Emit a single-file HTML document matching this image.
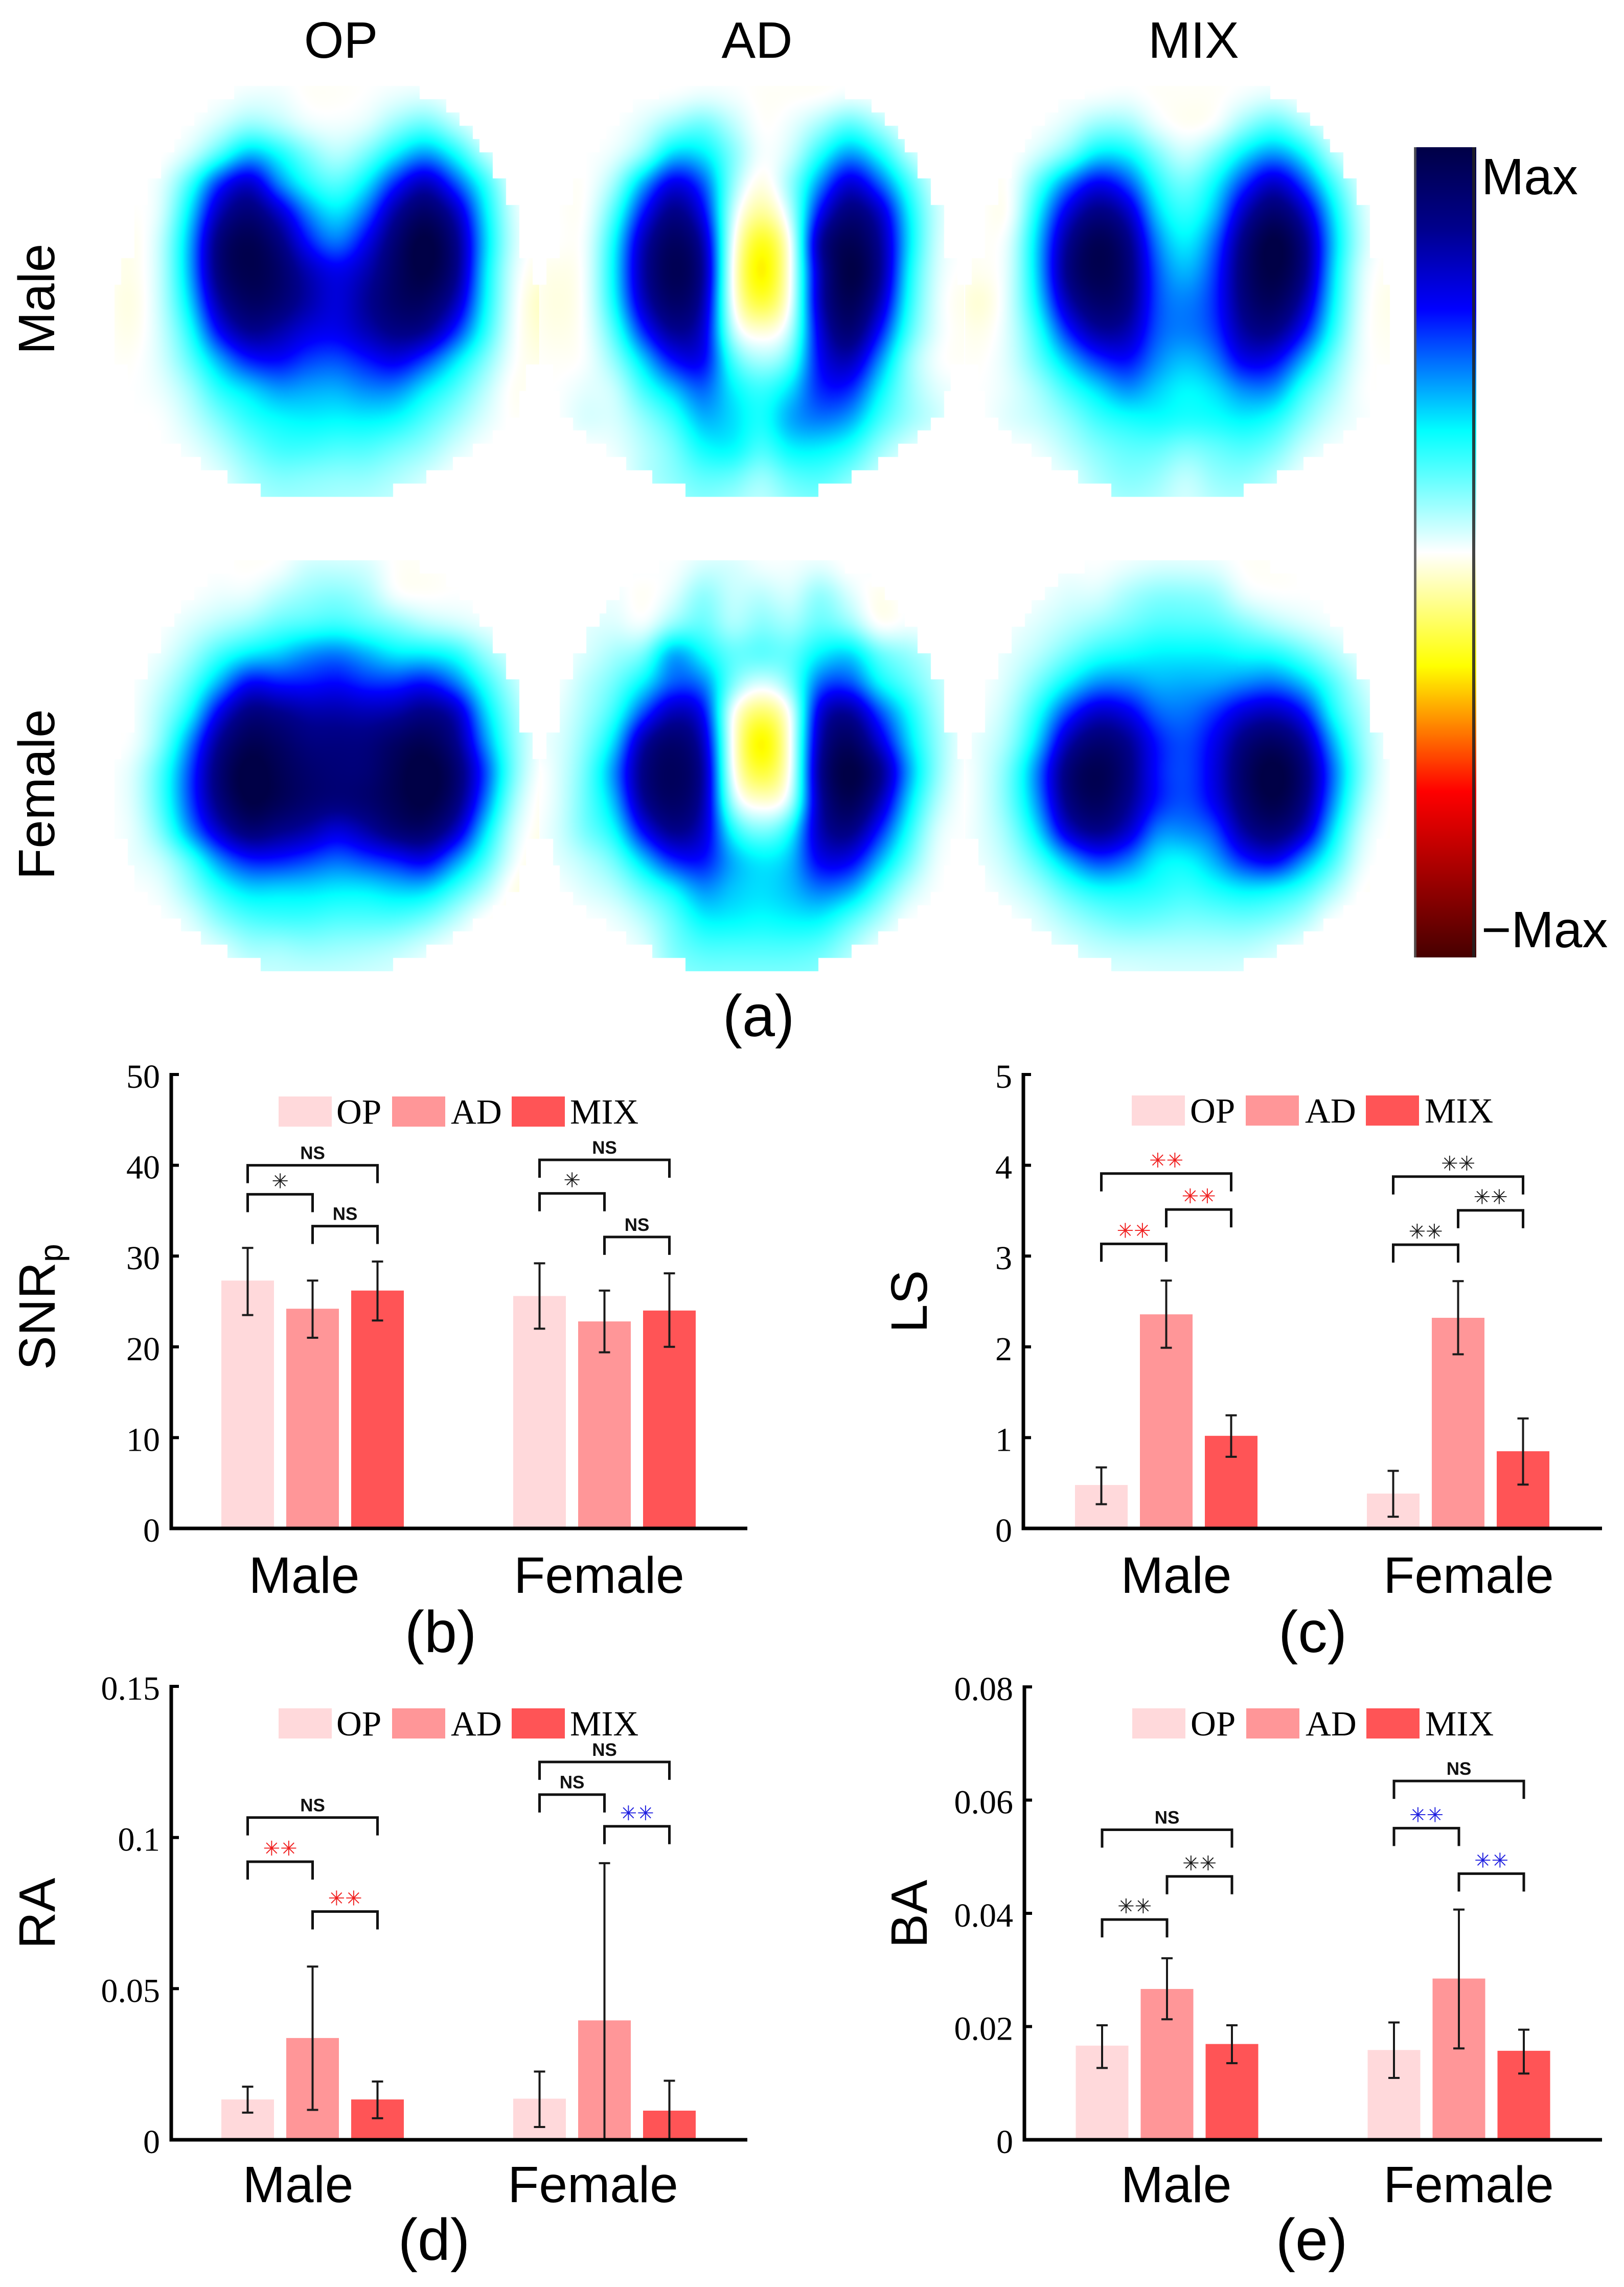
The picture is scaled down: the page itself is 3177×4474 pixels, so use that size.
<!DOCTYPE html>
<html lang="en">
<head>
<meta charset="utf-8">
<title>Topographic maps and bar charts of SNRp, LS, RA and BA</title>
<style>
html,body{margin:0;padding:0;background:#fff;}
#stage{position:relative;width:3177px;height:4474px;overflow:hidden;background:#fff;}
canvas{position:absolute;}
#figure{position:absolute;left:0;top:0;}
.sans{font-family:"Liberation Sans",Arial,sans-serif;}
.serif{font-family:"Liberation Serif","Times New Roman",serif;}
</style>
</head>
<body>
<div id="stage">
  <canvas id="hm-male-op" width="900" height="900" style="left:200px;top:130px"></canvas>
  <canvas id="hm-male-ad" width="900" height="900" style="left:1030px;top:130px"></canvas>
  <canvas id="hm-male-mix" width="900" height="900" style="left:1860px;top:130px"></canvas>
  <canvas id="hm-female-op" width="900" height="900" style="left:200px;top:1050px"></canvas>
  <canvas id="hm-female-ad" width="900" height="900" style="left:1030px;top:1050px"></canvas>
  <canvas id="hm-female-mix" width="900" height="900" style="left:1860px;top:1050px"></canvas>
  <svg id="figure" width="3177" height="4474" viewBox="0 0 3177 4474" xmlns="http://www.w3.org/2000/svg">
    <defs><linearGradient id="cbar-gradient" x1="0" y1="0" x2="0" y2="1"></linearGradient></defs>
    <g class="sans" font-size="100" fill="#000">
      <text x="667" y="113" text-anchor="middle">OP</text>
      <text x="1481" y="113" text-anchor="middle">AD</text>
      <text x="2335" y="113" text-anchor="middle">MIX</text>
      <text transform="translate(106 585) rotate(-90)" text-anchor="middle">Male</text>
      <text transform="translate(106 1554) rotate(-90)" text-anchor="middle">Female</text>
      <text x="2898" y="380">Max</text>
      <text x="2898" y="1853">−Max</text>
      <text transform="translate(107 2680) rotate(-90)">SNR<tspan font-size="64" dy="15">p</tspan></text>
      <text transform="translate(1813 2546) rotate(-90)" text-anchor="middle">LS</text>
      <text transform="translate(107 3743) rotate(-90)" text-anchor="middle">RA</text>
      <text transform="translate(1813 3744) rotate(-90)" text-anchor="middle">BA</text>
    </g>
    <g class="sans" font-size="115" fill="#000" text-anchor="middle">
      <text x="1484" y="2027">(a)</text>
      <text x="862" y="3232">(b)</text>
      <text x="2568" y="3232">(c)</text>
      <text x="849" y="4421">(d)</text>
      <text x="2566" y="4421">(e)</text>
    </g>
    <g id="colorbar"></g>
    <g id="charts"></g>
  </svg>
</div>
<script>
/* ---------- heatmap values, -1..1 on the colorbar scale ---------- */
const heatMaleOP = [
[0,0,0,0,0,0,0,0,0,0,0,0,0,0,0,0],
[0,0,0,0,0,.02,.02,-.01,-.01,0,.02,.03,0,0,0,0],
[0,0,0,0,.05,.12,.08,.02,.01,.03,.12,.18,.08,0,0,0],
[0,0,-.01,.05,.2,.38,.28,.15,.07,.15,.3,.42,.28,.08,0,0],
[0,0,.02,.22,.55,.7,.42,.25,.18,.3,.55,.72,.5,.25,.02,-.01],
[0,-.01,.03,.32,.72,.85,.68,.42,.3,.45,.75,.9,.72,.32,.04,-.02],
[0,-.03,.06,.38,.85,.95,.82,.55,.42,.6,.85,1,.82,.35,.05,-.02],
[0,-.03,.06,.38,.85,.95,.88,.7,.6,.7,.88,.98,.82,.32,.03,-.04],
[0,-.04,.06,.33,.75,.9,.85,.72,.62,.75,.88,.9,.72,.3,.02,-.08],
[0,-.03,.05,.25,.6,.78,.72,.62,.6,.7,.8,.78,.55,.25,.01,-.06],
[0,-.01,.04,.18,.38,.55,.58,.5,.48,.55,.62,.5,.32,.15,0,-.03],
[0,0,.02,.1,.25,.32,.4,.38,.37,.42,.42,.3,.2,.08,-.02,0],
[0,0,0,.06,.15,.24,.28,.3,.29,.3,.28,.2,.12,.04,-.01,0],
[0,0,0,.02,.08,.16,.22,.22,.2,.2,.16,.12,.05,0,0,0],
[0,0,0,0,.03,.1,.14,.13,.12,.12,.09,.05,0,0,0,0],
[0,0,0,0,.02,.08,.1,.1,.09,.08,.06,.03,0,0,0,0]];
const heatMaleAD = [
[0,0,0,0,0,0,0,0,0,0,0,0,0,0,0,0],
[0,0,0,0,0,0,.02,.01,-.01,-.01,-.01,.01,0,0,0,0],
[0,0,0,0,.04,.12,.18,.08,-.01,.02,.1,.2,.1,.01,0,0],
[0,0,0,.02,.12,.35,.32,.15,0,.05,.25,.42,.28,.08,0,0],
[0,0,-.01,.1,.4,.65,.5,.12,-.05,.12,.42,.68,.48,.22,.03,0],
[0,0,-.01,.2,.58,.82,.62,.05,-.14,.06,.6,.85,.7,.3,.05,0],
[0,0,0,.28,.72,.92,.75,0,-.3,-.03,.78,.95,.78,.32,.04,0],
[0,-.03,0,.3,.75,.95,.8,-.03,-.36,-.03,.72,1,.8,.28,.03,-.01],
[0,-.04,0,.28,.7,.9,.75,-.02,-.26,-.02,.72,.95,.72,.25,.02,-.03],
[0,-.03,0,.2,.55,.78,.68,.05,-.06,.05,.65,.88,.58,.2,.02,-.02],
[0,-.01,0,.12,.34,.58,.62,.2,.08,.17,.6,.72,.42,.12,0,-.01],
[0,0,.03,.05,.22,.35,.48,.3,.22,.32,.55,.55,.3,.12,.03,.01],
[0,0,.05,.04,.12,.22,.38,.33,.25,.4,.45,.4,.22,.12,.06,0],
[0,0,0,.02,.08,.15,.28,.3,.2,.3,.3,.25,.12,.04,0,0],
[0,0,0,0,.08,.13,.18,.17,.1,.18,.2,.14,.05,0,0,0],
[0,0,0,0,.05,.1,.13,.1,.06,.12,.14,.08,0,0,0,0]];
const heatMaleMIX = [
[0,0,0,0,0,0,0,0,0,0,0,0,0,0,0,0],
[0,0,0,0,0,0,.01,-.01,-.01,-.01,.01,.03,0,0,0,0],
[0,0,0,0,.04,.12,.12,.02,-.02,0,.12,.2,.1,.01,0,0],
[0,0,-.01,.05,.15,.32,.3,.15,.05,.15,.32,.42,.3,.08,0,0],
[0,0,-.01,.2,.45,.62,.5,.25,.15,.28,.52,.7,.5,.22,.03,-.01],
[0,0,-.02,.3,.65,.82,.7,.33,.22,.35,.7,.88,.7,.32,.05,-.02],
[0,-.01,.02,.36,.78,.95,.82,.42,.28,.45,.82,1,.82,.36,.06,-.02],
[0,-.02,.03,.36,.82,.95,.85,.47,.35,.5,.85,.98,.82,.33,.03,-.02],
[0,-.06,.04,.32,.72,.88,.82,.48,.42,.52,.82,.92,.72,.3,.02,-.03],
[0,-.03,.04,.24,.55,.75,.72,.47,.43,.5,.75,.8,.58,.25,.01,-.02],
[0,-.01,.04,.18,.36,.52,.58,.42,.35,.42,.62,.6,.38,.16,.01,-.01],
[0,0,.03,.1,.22,.32,.42,.34,.28,.32,.42,.42,.22,.1,0,0],
[0,0,.04,.07,.13,.22,.26,.28,.26,.27,.3,.26,.14,.05,.01,0],
[0,0,0,.02,.08,.14,.18,.18,.14,.17,.2,.16,.06,.01,0,0],
[0,0,0,0,.03,.1,.14,.12,.06,.12,.13,.08,.01,0,0,0],
[0,0,0,0,.02,.07,.1,.08,.04,.08,.09,.05,0,0,0,0]];
const heatFemaleOP = [
[0,0,0,0,0,0,0,0,0,0,0,0,0,0,0,0],
[0,0,0,0,0,-.01,0,.06,.06,.05,-.01,-.01,0,0,0,0],
[0,0,0,0,.02,.02,.08,.12,.14,.1,0,-.01,0,0,0,0],
[0,0,0,.04,.08,.12,.18,.2,.22,.18,.14,.08,.05,.02,0,0],
[0,0,.02,.1,.22,.3,.34,.42,.45,.38,.3,.3,.26,.12,.04,0],
[0,0,.06,.18,.38,.6,.55,.55,.58,.52,.52,.58,.45,.24,.08,-.01],
[0,0,.1,.27,.62,.82,.78,.72,.72,.7,.72,.8,.72,.34,.12,0],
[0,0,.13,.42,.78,.93,.88,.8,.8,.8,.88,.93,.8,.42,.14,0],
[0,.03,.2,.5,.85,1,.92,.85,.82,.82,.92,1,.88,.52,.15,-.02],
[0,.03,.2,.5,.82,.98,.92,.85,.82,.85,.92,.98,.85,.46,.1,-.03],
[0,.02,.15,.42,.68,.85,.78,.72,.62,.72,.85,.88,.7,.33,.05,-.03],
[0,.02,.06,.2,.42,.55,.55,.5,.45,.5,.55,.62,.42,.22,.02,-.05],
[0,0,.02,.12,.25,.33,.32,.32,.3,.3,.34,.34,.22,.1,-.03,-.05],
[0,0,0,.04,.14,.2,.22,.22,.2,.2,.2,.16,.08,-.01,-.02,0],
[0,0,0,.01,.04,.1,.1,.12,.11,.1,.08,.04,0,-.01,0,0],
[0,0,0,0,.01,.05,.06,.06,.06,.05,.04,.01,0,0,0,0]];
const heatFemaleAD = [
[0,0,0,0,0,0,0,0,0,0,0,0,0,0,0,0],
[0,0,0,0,.01,0,.05,.05,.01,.01,.03,-.01,.02,0,0,0],
[0,0,0,.02,-.02,.03,.14,.06,.08,.04,.14,.04,-.03,.01,0,0],
[0,0,.03,.04,0,.12,.18,.08,.14,.1,.18,.12,-.02,.01,0,0],
[0,0,.04,.1,.15,.42,.28,.18,.2,.18,.3,.35,.18,.12,.06,0],
[0,0,.08,.16,.3,.48,.45,.15,.03,.14,.48,.5,.28,.18,.08,0],
[0,.02,.1,.22,.5,.72,.62,-.02,-.2,-.02,.68,.78,.5,.28,.1,0],
[.02,.03,.13,.32,.75,.88,.72,-.03,-.36,-.03,.75,.92,.65,.33,.12,0],
[-.03,.03,.16,.42,.82,.92,.78,-.02,-.26,-.03,.8,1,.82,.4,.12,-.01],
[-.02,.03,.17,.36,.78,.9,.75,.06,-.07,.03,.75,.95,.72,.33,.08,-.01],
[-.01,.04,.16,.27,.6,.8,.68,.25,.13,.25,.72,.82,.55,.25,.03,0],
[0,.03,.08,.16,.35,.55,.58,.38,.3,.35,.62,.62,.38,.17,.01,0],
[0,0,.04,.08,.18,.28,.42,.35,.32,.36,.45,.4,.22,.07,0,0],
[0,0,0,.02,.08,.18,.3,.3,.28,.3,.3,.2,.1,0,0,0],
[0,0,0,0,.03,.15,.2,.2,.2,.2,.18,.1,.01,0,0,0],
[0,0,0,0,.02,.12,.14,.14,.14,.14,.13,.06,0,0,0,0]];
const heatFemaleMIX = [
[0,0,0,0,0,0,0,0,0,0,0,0,0,0,0,0],
[0,0,0,0,.01,0,.02,.04,.04,.03,-.01,-.01,0,0,0,0],
[0,0,0,.01,.04,.04,.1,.14,.14,.12,.02,0,0,0,0,0],
[0,0,.01,.04,.08,.12,.16,.2,.2,.19,.14,.08,.04,.01,0,0],
[0,0,.03,.08,.16,.24,.27,.3,.3,.3,.27,.26,.18,.09,.02,0],
[0,0,.05,.16,.3,.42,.42,.37,.38,.38,.42,.45,.36,.2,.06,0],
[0,.01,.08,.26,.52,.68,.62,.46,.44,.52,.65,.7,.58,.26,.1,0],
[0,.03,.11,.34,.72,.86,.78,.55,.48,.6,.82,.9,.76,.38,.12,0],
[-.02,.03,.16,.45,.85,.95,.82,.55,.48,.62,.88,1,.85,.46,.14,-.01],
[-.02,.03,.16,.42,.82,.92,.78,.55,.48,.6,.85,.97,.82,.42,.1,-.01],
[-.01,.03,.12,.33,.68,.8,.68,.42,.42,.48,.75,.85,.7,.32,.05,-.01],
[0,.02,.08,.2,.38,.52,.45,.3,.28,.38,.55,.62,.42,.22,.02,-.01],
[0,0,.04,.1,.2,.27,.27,.25,.22,.26,.3,.28,.22,.1,-.01,0],
[0,0,0,.04,.1,.15,.18,.17,.15,.16,.17,.15,.1,0,-.01,0],
[0,0,0,.01,.04,.07,.08,.08,.08,.08,.08,.05,.01,-.01,0,0],
[0,0,0,0,.01,.03,.03,.04,.04,.04,.03,.02,0,0,0,0]];

/* colormap: value on the scale, then r, g, b */
const colorValues = [1,.8,.6,.3,0,-.28,-.59,-1];
const colorReds = [0,0,0,0,255,255,255,70];
const colorGreens = [0,0,0,255,255,255,0,0];
const colorBlues = [70,140,255,255,255,0,0,0];

/* head outline: half width of each row of the scalp mask, counted in sensor cells */
const maskRowHalfCells = [7,9,10,11,11.5,12.5,12.5,13.5,13.5,14.5,14.5,14.5,14.5,15.5,15.5,16,16,16,16,16,16,15,15,14.5,14.5,13.5,12.5,11,9.5,7.5,5];

/* ---------- bar chart data ---------- */
const categories = ['Male','Female'];
const seriesNames = ['OP','AD','MIX'];
const seriesColors = ['#FFD9DB','#FF9698','#FF5456'];

const snrpMale = [27.3,24.2,26.2];
const snrpFemale = [25.6,22.8,24.0];
const snrpMaleUpper = [30.9,27.3,29.4];
const snrpMaleLower = [23.5,21.0,22.9];
const snrpFemaleUpper = [29.2,26.2,28.1];
const snrpFemaleLower = [22.0,19.4,20.0];
const snrpTicks = [0,10,20,30,40,50];
const snrpTickLabels = ['0','10','20','30','40','50'];
const snrpBrackets = [[0,0,2,40.0,'NS','k'],[0,0,1,36.8,'*','k'],[0,1,2,33.3,'NS','k'],[1,0,2,40.6,'NS','k'],[1,0,1,36.9,'*','k'],[1,1,2,32.1,'NS','k']];

const lsMale = [.478,2.358,1.02];
const lsFemale = [.384,2.32,.85];
const lsMaleUpper = [.672,2.73,1.246];
const lsMaleLower = [.267,1.99,.789];
const lsFemaleUpper = [.634,2.724,1.211];
const lsFemaleLower = [.129,1.918,.483];
const lsTicks = [0,1,2,3,4,5];
const lsTickLabels = ['0','1','2','3','4','5'];
const lsBrackets = [[0,0,2,3.909,'**','r'],[0,1,2,3.513,'**','r'],[0,0,1,3.134,'**','r'],[1,0,2,3.875,'**','k'],[1,1,2,3.504,'**','k'],[1,0,1,3.125,'**','k']];

const raMale = [.01334,.03367,.01334];
const raFemale = [.0136,.0395,.00964];
const raMaleUpper = [.01756,.0573,.01928];
const raMaleLower = [.00898,.0099,.00713];
const raFemaleUpper = [.02258,.0915,.01954];
const raFemaleLower = [.00423,0,0];
const raTicks = [0,.05,.1,.15];
const raTickLabels = ['0','0.05','0.1','0.15'];
const raBrackets = [[0,0,2,.1066,'NS','k'],[0,0,1,.092,'**','r'],[0,1,2,.0755,'**','r'],[1,0,2,.125,'NS','k'],[1,0,1,.1142,'NS','k'],[1,1,2,.1037,'**','b']];

const baMale = [.01663,.02664,.01692];
const baFemale = [.01586,.02848,.01572];
const baMaleUpper = [.02023,.03207,.02023];
const baMaleLower = [.01269,.02129,.01353];
const baFemaleUpper = [.02072,.04067,.01945];
const baFemaleLower = [.01093,.01614,.0117];
const baTicks = [0,.02,.04,.06,.08];
const baTickLabels = ['0','0.02','0.04','0.06','0.08'];
const baBrackets = [[0,0,2,.05476,'NS','k'],[0,1,2,.04652,'**','k'],[0,0,1,.03891,'**','k'],[1,0,2,.06337,'NS','k'],[1,0,1,.05505,'**','b'],[1,1,2,.04701,'**','b']];

/* ---------- helpers ---------- */
const SVGNS = 'http://www.w3.org/2000/svg';
function make(tag, attrs, parent, text) {
  const n = document.createElementNS(SVGNS, tag);
  for (const k in attrs) n.setAttribute(k, attrs[k]);
  if (text !== undefined) n.textContent = text;
  parent.appendChild(n);
  return n;
}
function colorAt(v) {
  if (v >= colorValues[0]) return [colorReds[0], colorGreens[0], colorBlues[0]];
  for (let i = 1; i < colorValues.length; i++) {
    if (v >= colorValues[i]) {
      const t = (v - colorValues[i]) / (colorValues[i - 1] - colorValues[i]);
      return [
        colorReds[i] + (colorReds[i - 1] - colorReds[i]) * t,
        colorGreens[i] + (colorGreens[i - 1] - colorGreens[i]) * t,
        colorBlues[i] + (colorBlues[i - 1] - colorBlues[i]) * t
      ];
    }
  }
  const last = colorValues.length - 1;
  return [colorReds[last], colorGreens[last], colorBlues[last]];
}

/* ---------- heatmaps: half interpolating, half smoothing cubic between the grid nodes ---------- */
function cubic(a, b, c, d, t) {
  const t2 = t * t, t3 = t2 * t;
  const cr = b + .5 * t * (c - a + t * (2 * a - 5 * b + 4 * c - d + t * (3 * (b - c) + d - a)));
  const u = 1 - t;
  const bs = (u * u * u * a + (3 * t3 - 6 * t2 + 4) * b + (-3 * t3 + 3 * t2 + 3 * t + 1) * c + t3 * d) / 6;
  return .5 * cr + .5 * bs;
}
function drawHeatmap(id, grid, centerX, maskTop) {
  const canvas = document.getElementById(id);
  const ctx = canvas.getContext('2d');
  const W = canvas.width, H = canvas.height;
  const img = ctx.createImageData(W, H);
  const step = 900 * 100 / 1568;
  const rows = grid.length, cols = grid[0].length;
  const cell = 25.95;
  const line = new Array(cols);
  const clampR = i => Math.max(0, Math.min(rows - 1, i));
  const clampC = i => Math.max(0, Math.min(cols - 1, i));
  for (let y = 0; y < H; y++) {
    const row = Math.floor((y - maskTop) / cell);
    if (row < 0 || row >= maskRowHalfCells.length) continue;
    const half = maskRowHalfCells[row] * cell;
    const fy = y / step, iy = Math.floor(fy), ty = fy - iy;
    const r0 = grid[clampR(iy - 1)], r1 = grid[clampR(iy)], r2 = grid[clampR(iy + 1)], r3 = grid[clampR(iy + 2)];
    for (let c = 0; c < cols; c++) line[c] = cubic(r0[c], r1[c], r2[c], r3[c], ty);
    for (let x = 0; x < W; x++) {
      if (Math.abs(x - centerX) > half) continue;
      const fx = x / step, ix = Math.floor(fx), tx = fx - ix;
      const v = cubic(line[clampC(ix - 1)], line[clampC(ix)], line[clampC(ix + 1)], line[clampC(ix + 2)], tx);
      const rgb = colorAt(v > 0 ? v * 1.05 : v);
      const p = (y * W + x) * 4;
      img.data[p] = rgb[0];
      img.data[p + 1] = rgb[1];
      img.data[p + 2] = rgb[2];
      img.data[p + 3] = 255;
    }
  }
  ctx.putImageData(img, 0, 0);
}
drawHeatmap('hm-male-op', heatMaleOP, 439, 37.3);
drawHeatmap('hm-male-ad', heatMaleAD, 440.6, 37.3);
drawHeatmap('hm-male-mix', heatMaleMIX, 442.9, 37.3);
drawHeatmap('hm-female-op', heatFemaleOP, 439, 45.4);
drawHeatmap('hm-female-ad', heatFemaleAD, 440.6, 45.4);
drawHeatmap('hm-female-mix', heatFemaleMIX, 442.9, 45.4);

/* ---------- colorbar ---------- */
const gradient = document.getElementById('cbar-gradient');
colorValues.forEach((v, i) => {
  make('stop', {offset: (1 - v) / 2, 'stop-color': 'rgb(' + colorReds[i] + ',' + colorGreens[i] + ',' + colorBlues[i] + ')'}, gradient);
});
const cbarGroup = document.getElementById('colorbar');
const cbarFill = make('rect', {x: 2767, y: 288, width: 121, height: 1585, fill: 'url(#cbar-gradient)'}, cbarGroup);


const cbarLeft = make('rect', {x: 2766, y: 288, width: 5, height: 1585, fill: '#555', opacity: .85}, cbarGroup);


const cbarRight = make('rect', {x: 2880, y: 288, width: 6, height: 1585, fill: '#222', opacity: .85}, cbarGroup);



/* ---------- bar charts ---------- */
const markColors = {k: '#1c1c1c', r: '#f02020', b: '#2020e0'};
function drawChart(key, layout, data) {
  const root = make('g', {}, document.getElementById('charts'));
  
  
  const ymax = data.ticks[data.ticks.length - 1];
  const y = v => layout.base - (v / ymax) * (layout.base - layout.top);
  const x = (g, s) => layout.first + g * 571 + s * 127;
  const barW = 103;

  data.means.forEach((groupVals, g) => {
    groupVals.forEach((v, s) => {
      const bar = make('rect', {x: x(g, s) - barW / 2, y: y(v), width: barW, height: y(0) - y(v), fill: seriesColors[s]}, root);
      
      
    });
  });
  data.means.forEach((groupVals, g) => {
    groupVals.forEach((v, s) => {
      const e = make('path', {
        d: 'M' + x(g, s) + ' ' + y(data.lower[g][s]) + 'V' + y(data.upper[g][s]) +
           'M' + (x(g, s) - 11) + ' ' + y(data.upper[g][s]) + 'h22' +
           'M' + (x(g, s) - 11) + ' ' + y(data.lower[g][s]) + 'h22',
        fill: 'none', stroke: '#1a1a1a', 'stroke-width': 4
      }, root);
      
      
    });
  });

  const axes = make('path', {
    d: 'M' + layout.axis + ' ' + (layout.top - 3) + 'V' + layout.base + 'H' + layout.right,
    fill: 'none', stroke: '#000', 'stroke-width': 7
  }, root);
  
  

  data.ticks.forEach((t, i) => {
    const tick = make('line', {x1: layout.axis, x2: layout.axis + 15, y1: y(t), y2: y(t), stroke: '#000', 'stroke-width': 6}, root);
    
    
    const lab = make('text', {x: layout.axis - 22, y: y(t) + 26, 'text-anchor': 'end', class: 'serif', 'font-size': 66, fill: '#000'}, root, data.tickLabels[i]);
    
    
  });

  categories.forEach((c, g) => {
    const lab = make('text', {x: layout.catX[g], y: layout.catY, 'text-anchor': 'middle', class: 'sans', 'font-size': 100, fill: '#000'}, root, c);
    
    
  });

  seriesNames.forEach((s, i) => {
    const sw = make('rect', {x: layout.legendX[i], y: layout.legendY, width: 104, height: 59, fill: seriesColors[i]}, root);
    
    
    const t = make('text', {x: layout.legendTextX[i], y: layout.legendY + 53, class: 'serif', 'font-size': 69, fill: '#000'}, root, s);
    
    
  });

  data.brackets.forEach(b => {
    const x1 = x(b[0], b[1]), x2 = x(b[0], b[2]), yy = y(b[3]), leg = 35;
    const br = make('path', {
      d: 'M' + x1 + ' ' + (yy + leg) + 'V' + yy + 'H' + x2 + 'V' + (yy + leg),
      fill: 'none', stroke: '#111', 'stroke-width': 5
    }, root);
    
    
    const mid = (x1 + x2) / 2;
    let label;
    if (b[4] === 'NS') {
      label = make('text', {x: mid, y: yy - 12, 'text-anchor': 'middle', class: 'sans', 'font-size': 35, 'font-weight': 'bold', fill: '#111'}, root, 'NS');
    } else {
      const stars = b[4].length === 2 ? '✳✳' : '✳';
      label = make('text', {x: mid, y: yy - 12, 'text-anchor': 'middle', 'font-family': '"DejaVu Sans",sans-serif', 'font-size': 40, fill: markColors[b[5]]}, root, stars);
    }
    
    
  });
}

drawChart('snrp',
  {axis: 335, top: 2102, base: 2990, right: 1462, first: 484.5, catX: [595, 1172], catY: 3116,
   legendX: [545, 767, 1001], legendTextX: [658, 882, 1115], legendY: 2145},
  {means: [snrpMale, snrpFemale], upper: [snrpMaleUpper, snrpFemaleUpper], lower: [snrpMaleLower, snrpFemaleLower],
   ticks: snrpTicks, tickLabels: snrpTickLabels, brackets: snrpBrackets});
drawChart('ls',
  {axis: 2002, top: 2102, base: 2990, right: 3134, first: 2154.5, catX: [2301, 2873], catY: 3116,
   legendX: [2214, 2437, 2672], legendTextX: [2328, 2553, 2787], legendY: 2143},
  {means: [lsMale, lsFemale], upper: [lsMaleUpper, lsFemaleUpper], lower: [lsMaleLower, lsFemaleLower],
   ticks: lsTicks, tickLabels: lsTickLabels, brackets: lsBrackets});
drawChart('ra',
  {axis: 335, top: 3299, base: 4186, right: 1462, first: 484.5, catX: [583, 1160], catY: 4308,
   legendX: [545, 767, 1001], legendTextX: [658, 882, 1115], legendY: 3342},
  {means: [raMale, raFemale], upper: [raMaleUpper, raFemaleUpper], lower: [raMaleLower, raFemaleLower],
   ticks: raTicks, tickLabels: raTickLabels, brackets: raBrackets});
drawChart('ba',
  {axis: 2004, top: 3300, base: 4186, right: 3134, first: 2156, catX: [2301, 2873], catY: 4308,
   legendX: [2215, 2438, 2673], legendTextX: [2329, 2554, 2788], legendY: 3342},
  {means: [baMale, baFemale], upper: [baMaleUpper, baFemaleUpper], lower: [baMaleLower, baFemaleLower],
   ticks: baTicks, tickLabels: baTickLabels, brackets: baBrackets});
</script>
</body>
</html>
